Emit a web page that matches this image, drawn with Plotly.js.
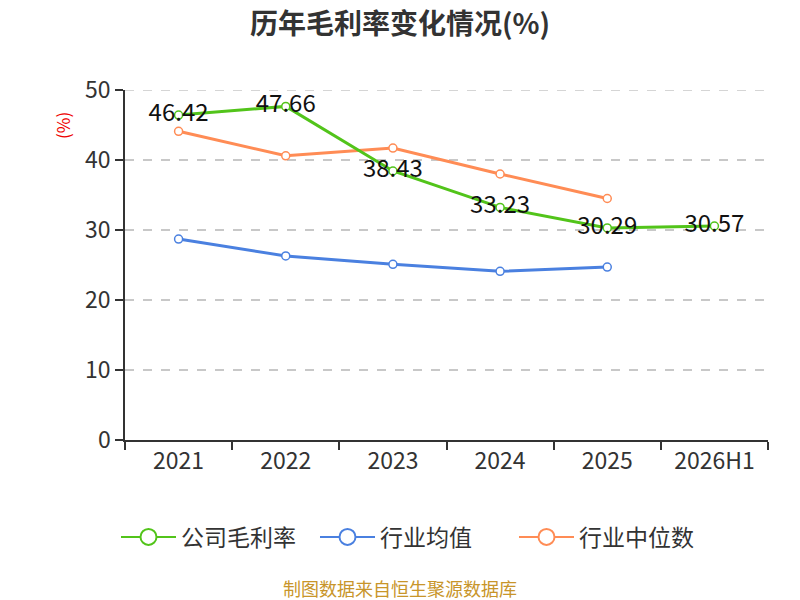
<!DOCTYPE html>
<html><head><meta charset="utf-8">
<script src="https://cdn.plot.ly/plotly-3.0.1.min.js"></script>
<style>body{margin:0}#c{width:800px;height:600px}</style>
</head><body><div id="c"></div>
<script>
var categories = ["2021","2022","2023","2024","2025","2026H1"];
var companyMargin = [46.42, 47.66, 38.43, 33.23, 30.29, 30.57];
var industryAvg = [28.7, 26.3, 25.1, 24.1, 24.7];
var industryMedian = [44.1, 40.6, 41.7, 38.0, 34.5];
var seriesNames = ["公司毛利率", "行业均值", "行业中位数"];
var colors = ["#52c41a", "#4a80e0", "#ff8c55"];
var font = "'Noto Sans CJK SC', 'Noto Sans', sans-serif";
var yMax = 50;

function mk(name, y, color, withText){
  var t = {
    type:"scatter", mode: withText ? "lines+markers+text" : "lines+markers",
    x: categories.slice(0, y.length), y: y, name: name, showlegend:false,
    line:{color:color, width:3},
    marker:{symbol:"circle", size:8, color:"#ffffff", line:{color:color, width:1.5}},
    cliponaxis:false
  };
  if (withText){
    t.text = y.map(function(v){return v.toFixed(2);});
    t.textposition = "middle center";
    t.textfont = {size:24, color:"#111", family:font};
  }
  return t;
}
function legendItem(name, color){
  return {type:"scatter", mode:"lines+markers", x:[null], y:[null], name:name, showlegend:true,
    line:{color:color, width:2}, marker:{symbol:"circle", size:16, color:"#ffffff", line:{color:color, width:2}}};
}
var data = [
  mk(seriesNames[1], industryAvg, colors[1], false),
  mk(seriesNames[2], industryMedian, colors[2], false),
  mk(seriesNames[0], companyMargin, colors[0], true),
  legendItem(seriesNames[0], colors[0]),
  legendItem(seriesNames[1], colors[1]),
  legendItem(seriesNames[2], colors[2])
];

var layout = {
  width:800, height:600,
  margin:{l:125, r:32, t:90, b:160},
  paper_bgcolor:"#fff", plot_bgcolor:"#fff",
  font:{family:font, color:"#333"},
  title:{text:"<b>历年毛利率变化情况(%)</b>", x:0.5, xanchor:"center", y:0.96, yanchor:"middle", font:{size:28, color:"#333", family:font}},
  showlegend:true,
  legend:{orientation:"h", x:-0.014, xanchor:"left", y:-0.277, yanchor:"middle", font:{size:23, color:"#333", family:font},
    itemwidth:55, entrywidth:129, entrywidthmode:"pixels", traceorder:"normal"},
  xaxis:{type:"category", tickson:"boundaries", ticks:"outside", ticklen:8, tickcolor:"#333", tickwidth:1.5,
    showline:true, linecolor:"#333", linewidth:1.5, showgrid:false,
    tickfont:{size:23, color:"#333", family:font}, range:[-0.5, 5.5], fixedrange:true},
  yaxis:{range:[0,yMax], dtick:10, ticks:"outside", ticklen:8, tickcolor:"#333", tickwidth:1.5,
    showline:true, linecolor:"#333", linewidth:1.5,
    showgrid:true, gridcolor:"#c8c8c8", griddash:"dash", gridwidth:1.5,
    zeroline:false, tickfont:{size:23, color:"#333", family:font}},
  shapes:[
    {type:"line", xref:"paper", x0:0, x1:1, yref:"y", y0:yMax, y1:yMax, layer:"below", line:{color:"#c8c8c8", width:1.5, dash:"dash"}}
  ],
  annotations:[
    {text:"(%)", xref:"paper", yref:"paper", x:-0.098, xanchor:"center", y:0.9, yanchor:"middle", textangle:-90, showarrow:false, font:{size:17, color:"#ee0000", family:font}},
    {text:"制图数据来自恒生聚源数据库", xref:"paper", yref:"paper", x:0.428, xanchor:"center", y:-0.423, yanchor:"middle", showarrow:false, borderpad:0, font:{size:18, color:"#c8952a", family:font}}
  ]
};
Plotly.newPlot("c", data, layout, {displayModeBar:false});
</script></body></html>
